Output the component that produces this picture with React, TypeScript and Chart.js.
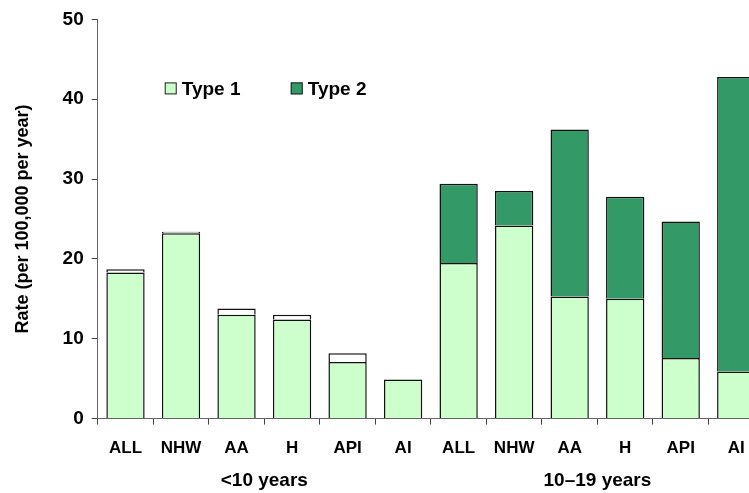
import React, { useEffect, useRef } from "react";
import { Chart, registerables } from "chart.js";

Chart.register(...registerables);

const categories = ["ALL", "NHW", "AA", "H", "API", "AI", "ALL", "NHW", "AA", "H", "API", "AI"];
const groups = ["<10 years", "10–19 years"];
const type1 = [18.3, 23.2, 13.0, 12.4, 7.1, 4.9, 19.5, 24.2, 15.3, 15.0, 7.6, 5.9];
const type2 = [0.4, 0.2, 0.8, 0.6, 1.1, 0, 9.9, 4.3, 20.9, 12.8, 17.1, 36.9];
const seriesNames = ["Type 1", "Type 2"];
const yTicks = [0, 10, 20, 30, 40, 50];

const C1 = "#ccffcc";
const C2 = "#339966";
const FONT = "'Liberation Sans', Arial, Helvetica, sans-serif";

const overlay = {
  id: "overlay",
  afterDraw(chart: any) {
    const ctx = chart.ctx;
    const x = chart.scales.x;
    const area = chart.chartArea;
    ctx.save();
    ctx.fillStyle = "#000";
    ctx.font = `bold 19px ${FONT}`;
    ctx.textAlign = "center";
    ctx.textBaseline = "middle";
    const per = categories.length / groups.length;
    groups.forEach((g, i) => {
      const a = x.getPixelForValue(i * per);
      const b = x.getPixelForValue(i * per + per - 1);
      ctx.fillText(g, (a + b) / 2, area.bottom + 62);
    });
    // legend
    const items = [
      { t: seriesNames[0], c: C1 },
      { t: seriesNames[1], c: C2 },
    ];
    let lx = area.left + 67;
    const ly = area.top + 69;
    ctx.textAlign = "left";
    items.forEach((it) => {
      ctx.fillStyle = it.c;
      ctx.fillRect(lx, ly - 6, 12, 12);
      ctx.strokeStyle = "#222";
      ctx.lineWidth = 1;
      ctx.strokeRect(lx + 0.5, ly - 5.5, 11, 11);
      ctx.fillStyle = "#000";
      ctx.fillText(it.t, lx + 17, ly + 1);
      lx += 126;
    });
    ctx.restore();
  },
};

export default function App() {
  const ref = useRef<HTMLCanvasElement | null>(null);
  useEffect(() => {
    if (!ref.current) return;
    const chart = new Chart(ref.current, {
      type: "bar",
      data: {
        labels: categories,
        datasets: [
          {
            label: seriesNames[0],
            data: type1,
            backgroundColor: C1,
            borderColor: "#111",
            borderWidth: 1.5,
            categoryPercentage: 0.69,
            barPercentage: 1,
          },
          {
            label: seriesNames[1],
            data: type2,
            backgroundColor: type2.map((_, i) => (i < 6 ? "#ffffff" : C2)),
            borderColor: "#111",
            borderWidth: 1.5,
            categoryPercentage: 0.69,
            barPercentage: 1,
          },
        ],
      },
      options: {
        responsive: false,
        animation: false,
        devicePixelRatio: 1,
        layout: { padding: { top: 7, right: 6, bottom: 20, left: 12 } },
        plugins: { legend: { display: false }, tooltip: { enabled: false } },
        scales: {
          x: {
            stacked: true,
            grid: { drawOnChartArea: false, tickLength: 6, color: "#444", offset: true },
            border: { color: "#666" },
            ticks: { color: "#000", font: { family: FONT, size: 17, weight: "bold" }, padding: 14, autoSkip: false, maxRotation: 0 },
          },
          y: {
            stacked: true,
            min: 0,
            max: 50,
            afterBuildTicks: (s: any) => {
              s.ticks = yTicks.map((v) => ({ value: v }));
            },
            grid: { drawOnChartArea: false, tickLength: 6, color: "#444" },
            border: { color: "#666" },
            ticks: { color: "#000", font: { family: FONT, size: 19, weight: "bold" }, padding: 8 },
            title: {
              display: true,
              text: "Rate (per 100,000 per year)",
              color: "#000",
              font: { family: FONT, size: 18, weight: "bold" },
              padding: { top: 0, bottom: 21 },
            },
          },
        },
      },
      plugins: [overlay],
    });
    return () => chart.destroy();
  }, []);
  return (
    <div style={{ position: "fixed", left: 0, top: 0, width: 749, height: 493, overflow: "hidden", background: "#fff" }}>
      <canvas ref={ref} width={770} height={493} style={{ display: "block" }} />
    </div>
  );
}
